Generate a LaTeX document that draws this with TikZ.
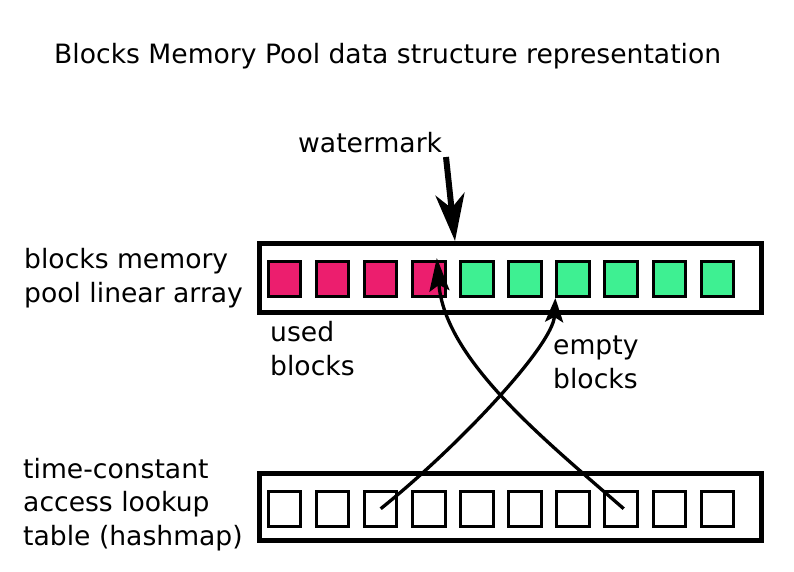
\documentclass[tikz,border=0pt]{standalone}
\usepackage{fontspec}
\setmainfont{DejaVu Sans}
\usetikzlibrary{arrows.meta,calc}
\definecolor{usedc}{RGB}{236,30,110}
\definecolor{emptyc}{RGB}{62,240,146}
\tikzset{
  lbl/.style={anchor=base west,inner sep=0pt,align=left,font=\fontsize{26.6}{33.5}\selectfont},
  frame/.style={draw,line width=5pt,minimum width=502pt,inner sep=0pt},
  cell/.style={draw,line width=3pt,minimum width=32.5pt,minimum height=35pt,inner sep=0pt},
  usedcell/.style={cell,fill=usedc},
  emptycell/.style={cell,fill=emptyc},
  link/.style={line width=3.3pt},
}
\begin{document}
\begin{tikzpicture}[x=1pt,y=-1pt]
\useasboundingbox (0,0) rectangle (794,571);
\fill[white] (0,0) rectangle (794,571);
% title and labels (multi-line nodes: base = last line)
\node[lbl] (title) at (54,63) {Blocks Memory Pool data structure representation};
\node[lbl] (wm) at (298,152) {watermark};
\node[lbl] (poollbl) at (24,302) {blocks memory\\pool linear array};
\node[lbl] (tablbl) at (23,545) {time-constant\\access lookup\\table (hashmap)};
\node[lbl] (usedlbl) at (270,375) {used\\blocks};
\node[lbl] (emptylbl) at (553,388) {empty\\blocks};
% frames
\node[frame,minimum height=69pt] (pool) at (510,278) {};
\node[frame,minimum height=66.8pt] (table) at (510,507.1) {};
% cells
\foreach \i in {0,...,9} {
  \ifnum\i<4
    \node[usedcell] (t\i) at (284.5+48.1*\i,279) {};
  \else
    \node[emptycell] (t\i) at (284.5+48.1*\i,279) {};
  \fi
  \node[cell] (b\i) at (284.5+48.1*\i,508.7) {};
}
% watermark arrow
\coordinate (wms) at (446,157);
\coordinate (wmt) at (455,241);
\draw[line width=6pt,-{Stealth[length=47pt,width=29pt,inset=14pt]}] (wms) -- (wmt);
% links
\coordinate (u1) at ($(t3.north)+(8,-2)$);
\draw[link,-{Stealth[length=33pt,width=20pt,inset=6pt]}]
  ($(b7.center)+(2.5,0)$) .. controls (545,440) and (445,360) .. (u1);
\draw[link,-{Stealth[length=24pt,width=18pt,inset=5pt]}]
  (b2.center) .. controls (460,445) and (553,345) .. (t6.south west);
\end{tikzpicture}
\end{document}
